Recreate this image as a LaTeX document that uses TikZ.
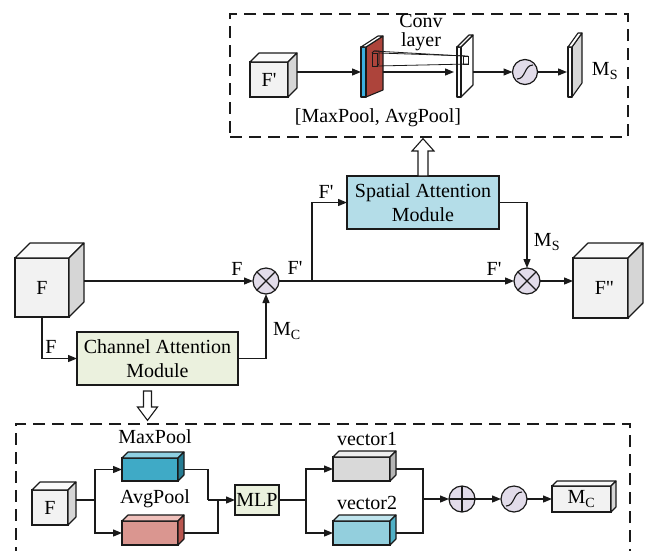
\documentclass[tikz,border=0pt]{standalone}
\usepackage{fontspec}
\setmainfont{Liberation Serif}[Ligatures=TeXOff]
\usetikzlibrary{arrows.meta,calc}

\definecolor{ink}{HTML}{1A1A1A}
\definecolor{cubefront}{HTML}{F2F2F2}
\definecolor{cubetop}{HTML}{FAFAFA}
\definecolor{cubeside}{HTML}{D6D6D6}
\definecolor{samblue}{HTML}{B4DDE8}
\definecolor{camgreen}{HTML}{EBF1DE}
\definecolor{opfill}{HTML}{E2DCEA}
\definecolor{maxfront}{HTML}{3FAAC6}
\definecolor{maxtop}{HTML}{8FD0E2}
\definecolor{maxside}{HTML}{267C93}
\definecolor{avgfront}{HTML}{DA9690}
\definecolor{avgtop}{HTML}{EFC0BB}
\definecolor{avgside}{HTML}{B9564F}
\definecolor{vonefront}{HTML}{D9D9D9}
\definecolor{vonetop}{HTML}{EEEEEE}
\definecolor{voneside}{HTML}{B5B5B5}
\definecolor{vtwofront}{HTML}{93CFDD}
\definecolor{vtwotop}{HTML}{BFE4ED}
\definecolor{vtwoside}{HTML}{4FB0C6}
\definecolor{poolblue}{HTML}{3CB0E0}
\definecolor{poolred}{HTML}{AD443B}

\tikzset{
  ln/.style={line width=1.3pt, draw=ink},
  arr/.style={ln, -{Triangle[length=9pt,width=7pt]}},
  facestyle/.style={line width=1.1pt, draw=ink, line join=round},
  frontface/.style={rectangle, draw=ink, line width=1.1pt, inner sep=0, outer sep=0},
  modbox/.style={rectangle, draw=ink, line width=1.2pt, inner sep=0, outer sep=0, align=center},
  opcircle/.style={circle, draw=ink, line width=1.2pt, fill=opfill, minimum size=26pt, inner sep=0, outer sep=0},
  dashbox/.style={rectangle, draw=ink, line width=1.3pt, dash pattern=on 12pt off 7pt, inner sep=0},
  hollow/.style={line width=1.1pt, draw=ink, fill=white, line join=miter},
  anchorbox/.style={rectangle, inner sep=0, outer sep=0},
  lbl/.style={inner sep=0}
}

% top and side faces of a box whose front face is node #1, depth #2
\newcommand\cubesides[4]{%
  \filldraw[facestyle, fill=#3] (#1.north west) -- ($(#1.north west)+(#2,-#2)$)
    -- ($(#1.north east)+(#2,-#2)$) -- (#1.north east) -- cycle;
  \filldraw[facestyle, fill=#4] (#1.north east) -- ($(#1.north east)+(#2,-#2)$)
    -- ($(#1.south east)+(#2,-#2)$) -- (#1.south east) -- cycle;}

% S-shaped activation curve inside circle #1
\newcommand\sigcurve[1]{%
  \draw[line width=1.1pt, draw=ink] ($(#1.center)+(-8,7)$) .. controls ($(#1.center)+(1,7)$) and ($(#1.center)+(-1,-7)$) .. ($(#1.center)+(8,-7)$);}

\begin{document}
\begin{tikzpicture}[x=1pt, y=-1pt, font=\fontsize{20}{24}\selectfont]
\useasboundingbox (0,0) rectangle (650,550);
\clip (0,0) rectangle (650,550);

% ---------- spatial attention detail ----------
\node[dashbox, minimum width=398pt, minimum height=123pt] (sabox) at (429,75.5) {};

\node[frontface, fill=cubefront, minimum width=38pt, minimum height=35pt] (Fp) at (269,79.5) {F'};
\cubesides{Fp}{9}{cubetop}{cubeside}

% pooled maps
\node[anchorbox, minimum width=22pt, minimum height=50pt] (slab) at (372,72) {};
\filldraw[facestyle, fill=poolred] (366,47) -- (383,36) -- (383,90) -- (366,97) -- cycle;
\filldraw[facestyle, fill=poolblue] (361,47) rectangle (366,97);
\filldraw[facestyle, fill=white] (361,47) -- (366,47) -- (383,36) -- (378,36) -- cycle;
\draw[line width=0.8pt, draw=ink] (372,53) rectangle (377,66);
\draw[line width=0.8pt, draw=ink] (372,53) -- (374,51) -- (379,51) -- (379,64) -- (377,66);

% convolved map
\node[anchorbox, minimum width=16pt, minimum height=50pt] (conv) at (465,72) {};
\filldraw[facestyle, fill=white] (461,47) -- (473,35) -- (473,85) -- (461,97) -- cycle;
\filldraw[facestyle, fill=white] (457,47) rectangle (461,97);
\filldraw[facestyle, fill=white] (457,47) -- (461,47) -- (473,35) -- (469,35) -- cycle;
\draw[line width=0.8pt, draw=ink] (463,56) rectangle (468,64);
\draw[line width=0.8pt, draw=ink] (374,51) -- (463,56);
\draw[line width=0.8pt, draw=ink] (379,53) -- (468,56);
\draw[line width=0.8pt, draw=ink] (377,66) -- (468,64);

% spatial map
\node[anchorbox, minimum width=14pt, minimum height=50pt] (msplane) at (575,72) {};
\filldraw[facestyle, fill=cubeside] (572,47) -- (582,33) -- (582,83) -- (572,97) -- cycle;
\filldraw[facestyle, fill=white] (568,47) rectangle (572,97);
\filldraw[facestyle, fill=white] (568,47) -- (572,47) -- (582,33) -- (578,33) -- cycle;

\node[opcircle, minimum size=25pt] (sig1) at (525,72) {};
\sigcurve{sig1}

\coordinate (FpOut) at ($(Fp.east)+(9,0)$);
\draw[arr] (FpOut |- slab.west) -- (slab.west);
\draw[arr] (slab.east) -- ($(conv.west)+(-3,0)$);
\draw[arr] (conv.east) -- (sig1.west);
\draw[arr] (sig1.east) -- ($(msplane.west)+(-1,0)$);

\node[lbl, align=center, font=\fontsize{20}{19}\selectfont] (convlbl) at (421,33) {Conv\\layer};
\node[lbl] (poollbl) at (378,118) {[MaxPool, AvgPool]};
\node[lbl] (mslbl) at (605,71) {M\textsubscript{S}};

% ---------- main flow ----------
\node[frontface, fill=cubefront, minimum width=54pt, minimum height=59pt] (F) at (42,287.5) {F};
\cubesides{F}{15}{cubetop}{cubeside}

\node[frontface, fill=cubefront, minimum width=55pt, minimum height=60pt] (Fpp) at (600.5,288) {\hspace*{8pt}F"};
\cubesides{Fpp}{15}{cubetop}{cubeside}

\node[opcircle] (mul1) at (266,281) {};
\draw[line width=1.1pt, draw=ink] (mul1.north west) -- (mul1.south east) (mul1.north east) -- (mul1.south west);
\node[opcircle] (mul2) at (527,281) {};
\draw[line width=1.1pt, draw=ink] (mul2.north west) -- (mul2.south east) (mul2.north east) -- (mul2.south west);

\node[modbox, fill=samblue, minimum width=152pt, minimum height=53pt] (sam) at (423,202.5) {Spatial Attention\\Module};
\node[modbox, fill=camgreen, minimum width=161pt, minimum height=53pt] (cam) at (157.5,358.5) {Channel Attention\\Module};

\coordinate (FOut) at ($(F.east)+(15,0)$);
\coordinate (br1) at (312,281);
\draw[arr] (FOut |- mul1.west) -- (mul1.west);
\draw[arr] (mul1.east) -- (mul2.west);
\draw[arr] (br1) |- (sam.west);
\draw[arr] (sam.east) -| (mul2.north);
\draw[arr] (mul2.east) -- (mul2.east -| Fpp.west);
\draw[arr] (F.south) |- (cam.west);
\draw[arr] (cam.east) -| (mul1.south);

\node[lbl] (lF1) at (237,269) {F};
\node[lbl] (lF2) at (295,268) {F'};
\node[lbl] (lF3) at (326,192) {F'};
\node[lbl] (lF4) at (494,269) {F'};
\node[lbl] (lMs) at (547,242) {M\textsubscript{S}};
\node[lbl] (lMc) at (287,331) {M\textsubscript{C}};
\node[lbl] (lF5) at (51,347) {F};

% ---------- channel attention detail ----------
\node[dashbox, minimum width=614pt, minimum height=150pt] (cabox) at (323,499) {};

% hollow arrows linking modules and their details
\draw[hollow] ($(sam.north)+(-5,0)$) -- ($(sam.north)+(-5,-25)$) -- ($(sam.north)+(-11,-25)$)
  -- ($(sam.north |- sabox.south)+(0,1)$) -- ($(sam.north)+(11,-25)$) -- ($(sam.north)+(5,-25)$)
  -- ($(sam.north)+(5,0)$) -- cycle;
\draw[hollow] ($(cam.south)+(-14,6)$) -- ($(cam.south)+(-14,22)$) -- ($(cam.south)+(-20,22)$)
  -- ($(cam.south |- cabox.north)+(-10,-3)$) -- ($(cam.south)+(0,22)$) -- ($(cam.south)+(-6,22)$)
  -- ($(cam.south)+(-6,6)$) -- cycle;

\node[frontface, fill=cubefront, minimum width=36pt, minimum height=35pt] (Fs) at (50,507.5) {F};
\cubesides{Fs}{8}{cubetop}{cubeside}

\node[frontface, fill=maxfront, minimum width=56pt, minimum height=23pt] (maxp) at (150,469.5) {};
\cubesides{maxp}{6}{maxtop}{maxside}
\node[frontface, fill=avgfront, minimum width=56pt, minimum height=24pt] (avgp) at (150,533) {};
\cubesides{avgp}{6}{avgtop}{avgside}
\node[lbl] (lmax) at (155,437) {MaxPool};
\node[lbl] (lavg) at (155,499) {AvgPool};

\node[modbox, fill=camgreen, minimum width=44pt, minimum height=30pt] (mlp) at (257,500) {MLP};

\node[frontface, fill=vonefront, minimum width=57pt, minimum height=24pt] (v1) at (361.5,469) {};
\cubesides{v1}{6}{vonetop}{voneside}
\node[frontface, fill=vtwofront, minimum width=57pt, minimum height=24pt] (v2) at (361.5,533) {};
\cubesides{v2}{6}{vtwotop}{vtwoside}
\node[lbl] (lv1) at (367,439) {vector1};
\node[lbl] (lv2) at (367,503) {vector2};

\node[opcircle] (oplus) at (462,499) {};
\draw[line width=1.1pt, draw=ink] (oplus.north) -- (oplus.south) (oplus.west) -- (oplus.east);
\node[opcircle] (sig2) at (514,499) {};
\sigcurve{sig2}

\node[frontface, fill=cubefront, minimum width=59pt, minimum height=26pt] (mcb) at (581.5,499) {M\textsubscript{C}};
\cubesides{mcb}{5}{cubetop}{cubeside}

\coordinate (FsOut) at ($(Fs.east)+(8,0)$);
\coordinate (b1) at (95,500);
\coordinate (j1) at (208,500);
\coordinate (j1b) at (218,500);
\coordinate (b2) at (306,500);
\coordinate (j2) at (423,499);

\draw[ln] (FsOut |- b1) -- (b1);
\draw[arr] (b1) |- (maxp.west);
\draw[arr] (b1) |- (avgp.west);
\draw[ln] ($(maxp.east)+(6,0)$) -| (j1);
\draw[ln] ($(avgp.east)+(6,0)$) -| (j1b);
\draw[arr] (j1) -- (mlp.west);
\draw[ln] (mlp.east) -- (b2);
\draw[arr] (b2) |- (v1.west);
\draw[arr] (b2) |- (v2.west);
\draw[ln] ($(v1.east)+(6,0)$) -| (j2);
\draw[ln] ($(v2.east)+(6,0)$) -| (j2);
\draw[arr] (j2) -- (oplus.west);
\draw[arr] (oplus.east) -- (sig2.west);
\draw[arr] (sig2.east) -- (mcb.west);
\end{tikzpicture}
\end{document}
